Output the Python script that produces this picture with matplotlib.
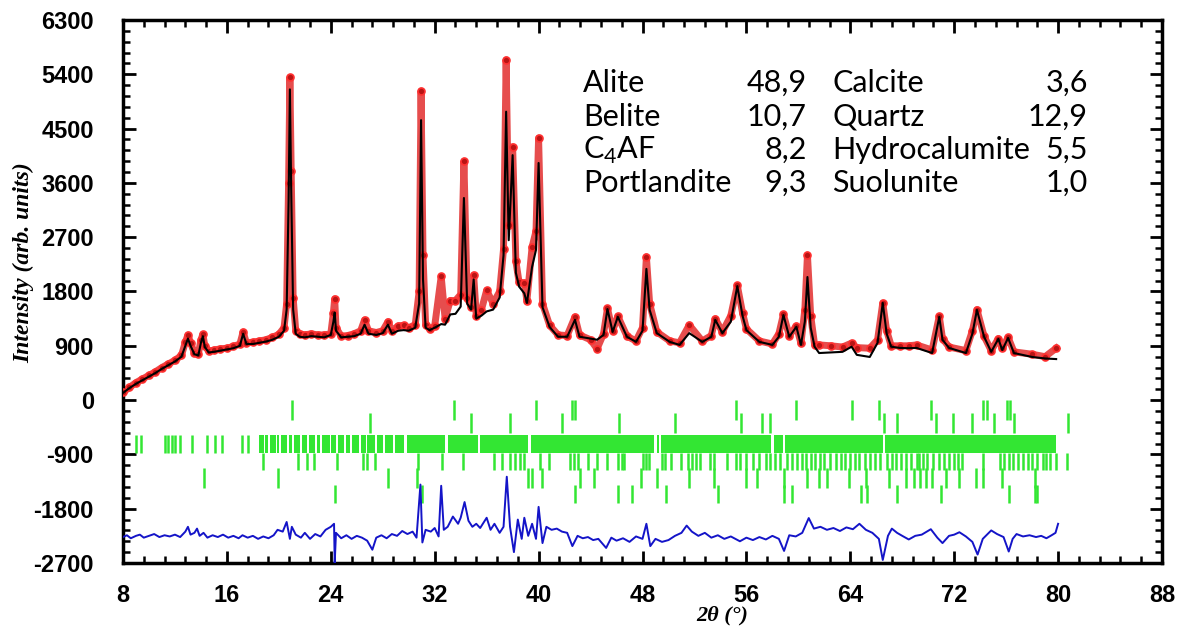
import matplotlib
matplotlib.use("Agg")
import matplotlib.pyplot as plt
from matplotlib.ticker import MultipleLocator

plt.rcParams['mathtext.fontset'] = 'custom'
plt.rcParams['mathtext.rm'] = 'Lato'
plt.rcParams['axes.unicode_minus'] = False

# observed / calculated profile (2theta, intensity)
tt = [8.0, 8.5, 9.0, 9.5, 10.0, 10.5, 11.0, 11.5, 12.0, 12.5, 12.8, 13.0, 13.2, 13.5, 13.8,
      14.0, 14.15, 14.3, 14.6, 15.0, 15.5, 16.0, 16.5, 17.0, 17.25, 17.5, 18.0, 18.5, 19.0,
      19.5, 20.0, 20.4, 20.6, 20.75, 20.85, 20.95, 21.1, 21.3, 21.6, 22.0, 22.5, 23.0, 23.5,
      24.0, 24.2, 24.3, 24.4, 24.8, 25.3, 25.8, 26.3, 26.6, 26.9, 27.5, 28.0, 28.4, 28.7,
      29.2, 29.6, 30.0, 30.5, 30.8, 30.95, 31.1, 31.3, 31.6, 32.0, 32.5, 32.8, 33.2, 33.6,
      34.0, 34.25, 34.5, 34.8, 35.0, 35.2, 35.6, 36.0, 36.5, 37.0, 37.3, 37.5, 37.7, 38.0,
      38.25, 38.5, 38.9, 39.1, 39.5, 39.8, 40.0, 40.3, 40.85, 41.5, 42.2, 42.8, 43.15, 44.0,
      44.5, 45.0, 45.3, 45.7, 46.1, 46.8, 47.5, 48.0, 48.3, 48.55, 49.1, 50.1, 50.85, 51.6,
      52.6, 53.3, 53.6, 54.15, 54.8, 55.3, 55.7, 56.0, 57.0, 58.0, 58.5, 58.85, 59.3, 59.85,
      60.2, 60.5, 60.7, 60.95, 61.25, 61.6, 62.5, 63.4, 64.1, 64.5, 65.5, 66.1, 66.5, 66.8,
      67.15, 67.8, 68.5, 69.1, 70.3, 70.85, 71.1, 71.6, 72.9, 73.4, 73.75, 74.3, 74.85, 75.4,
      75.7, 76.15, 76.6, 78.0, 79.0, 79.85]
y_calc = [120, 200, 270, 330, 390, 450, 520, 580, 640, 720, 900, 1020, 900, 760, 740,
          950, 1060, 880, 790, 800, 820, 840, 860, 900, 1100, 930, 930, 950, 970,
          1000, 1050, 1150, 1500, 3300, 5150, 3500, 1500, 1100, 1050, 1040, 1060, 1050, 1040,
          1080, 1300, 1450, 1150, 1040, 1050, 1060, 1100, 1250, 1100, 1080, 1110, 1250, 1100,
          1150, 1160, 1150, 1200, 1600, 4640, 2000, 1200, 1160, 1200, 1260, 1250, 1420, 1430,
          1550, 3350, 1600, 1500, 2000, 1350, 1400, 1470, 1500, 1700, 2400, 4780, 2650, 4060,
          2110, 1880, 1770, 1610, 2210, 2490, 3930, 1540, 1210, 1050, 1050, 1330, 1050, 1020,
          1000, 1080, 1510, 1130, 1380, 1050, 965, 1150, 2175, 1495, 1110, 965, 915, 1110,
          965, 1050, 1330, 1110, 1300, 1890, 1400, 1160, 965, 915, 1050, 1410, 1050, 1215,
          915, 1300, 2040, 1200, 885, 780, 790, 800, 885, 750, 715, 950, 1610, 1100,
          885, 865, 860, 865, 780, 1380, 1000, 865, 780, 1100, 1495, 1050, 800, 1015,
          830, 1030, 780, 715, 690, 680]
y_obs = [130, 210, 290, 350, 410, 470, 540, 600, 660, 740, 960, 1080, 950, 780, 760,
         1000, 1090, 900, 810, 830, 850, 860, 890, 930, 1130, 950, 960, 980, 1000,
         1040, 1090, 1200, 1600, 3600, 5350, 3800, 1700, 1150, 1100, 1080, 1100, 1080, 1080,
         1100, 1450, 1680, 1200, 1060, 1070, 1100, 1150, 1330, 1150, 1120, 1150, 1300, 1150,
         1230, 1240, 1200, 1250, 1800, 5125, 2400, 1250, 1180, 1230, 2050, 1350, 1650, 1650,
         1750, 3960, 1700, 1550, 2075, 1400, 1500, 1820, 1600, 1800, 2500, 5640, 2900, 4200,
         2300, 1950, 1940, 1650, 2540, 2800, 4345, 1600, 1240, 1080, 1070, 1380, 1080, 1000,
         850, 1100, 1520, 1150, 1390, 1060, 980, 1200, 2375, 1600, 1130, 980, 950, 1245,
         980, 1070, 1350, 1130, 1400, 1900, 1450, 1180, 980, 930, 1100, 1420, 1070, 1230,
         940, 1500, 2405, 1400, 920, 915, 900, 880, 945, 870, 860, 1000, 1610, 1150,
         900, 900, 900, 915, 830, 1390, 1020, 880, 820, 1150, 1500, 1060, 820, 1020,
         860, 1040, 800, 760, 720, 860]

# difference curve
tt_diff = [8.0, 8.3, 8.6, 9.0, 9.3, 9.6, 10.0, 10.4, 10.8, 11.2, 11.6, 12.0, 12.4, 12.8, 13.0,
           13.2, 13.5, 13.7, 13.9, 14.2, 14.5, 14.9, 15.3, 15.7, 16.1, 16.5, 16.9, 17.2, 17.6,
           18.0, 18.4, 18.8, 19.2, 19.6, 19.9, 20.3, 20.6, 20.85, 21.0, 21.3, 21.7, 22.0, 22.4,
           22.8, 23.2, 23.6, 24.0, 24.25, 24.3, 24.4, 24.8, 25.2, 25.6, 26.0, 26.4, 26.8, 27.2,
           27.5, 27.9, 28.3, 28.7, 29.1, 29.5, 29.9, 30.3, 30.6, 30.9, 31.05, 31.3, 31.7, 32.0,
           32.3, 32.5, 32.7, 33.0, 33.4, 33.8, 34.0, 34.3, 34.6, 34.9, 35.2, 35.5, 35.8, 36.0,
           36.3, 36.6, 37.0, 37.3, 37.55, 37.8, 38.1, 38.4, 38.7, 38.9, 39.2, 39.5, 39.8, 40.0,
           40.3, 40.6, 41.0, 41.4, 41.8, 42.2, 42.6, 43.0, 43.4, 43.8, 44.2, 44.6, 45.2, 45.6,
           46.0, 46.5, 47.0, 47.5, 48.0, 48.3, 48.6, 49.0, 49.5, 50.0, 50.5, 51.0, 51.4, 51.8,
           52.3, 52.8, 53.3, 53.8, 54.3, 54.8, 55.5, 56.0, 56.5, 57.0, 57.5, 58.0, 58.5, 58.9,
           59.3, 59.8, 60.3, 60.8, 61.2, 61.7, 62.2, 62.7, 63.2, 63.7, 64.2, 64.7, 65.2, 65.7,
           66.2, 66.5, 66.9, 67.2, 67.6, 68.0, 68.5, 69.0, 69.5, 70.2, 70.7, 71.1, 71.6, 72.0,
           72.4, 72.9, 73.4, 73.8, 74.2, 74.85, 75.3, 75.8, 76.2, 76.5, 76.8, 77.3, 77.8, 78.3,
           78.7, 79.1, 79.5, 79.8, 80.0]
y_diff = [-2270, -2240, -2290, -2250, -2230, -2280, -2250, -2220, -2270, -2240, -2260, -2230, -2270, -2180, -2100,
          -2230, -2200, -2130, -2250, -2200, -2280, -2240, -2270, -2230, -2280, -2250, -2290, -2240, -2280,
          -2250, -2300, -2260, -2290, -2240, -2150, -2180, -2020, -2300, -2100, -2230, -2280, -2200, -2300,
          -2220, -2260, -2150, -2100, -2050, -2700, -2200, -2290, -2240, -2300, -2250, -2280, -2330, -2480,
          -2280, -2240, -2290, -2220, -2250, -2170, -2220, -2180, -2280, -1400, -2360, -2150, -2180, -2120,
          -2260, -1420, -2150, -2100, -1930, -2050, -1950, -1690, -2000, -2100, -2050, -2120, -2020, -1950,
          -2150, -2050, -2200, -2100, -1270, -2100, -2520, -1980, -2300, -1950, -2250, -2050, -2300, -1770,
          -2370, -2100, -2150, -2130, -2180, -2200, -2420, -2250, -2290, -2270, -2320, -2300, -2450, -2280,
          -2330, -2290, -2350, -2260, -2300, -2050, -2420, -2300, -2350, -2320, -2250, -2200, -2080, -2180,
          -2250, -2200, -2280, -2240, -2300, -2260, -2340, -2280, -2320, -2270, -2310, -2250, -2300, -2500,
          -2240, -2260, -2200, -1955, -2130, -2100, -2150, -2120, -2170, -2110, -2140, -2050, -2150, -2200,
          -2300, -2650, -2250, -2130, -2200, -2250, -2310, -2250, -2230, -2140, -2280, -2370, -2250, -2230,
          -2190, -2260, -2350, -2560, -2300, -2160, -2220, -2270, -2510, -2300, -2220, -2260, -2240, -2270,
          -2250, -2290, -2240, -2200, -2050]

# Bragg reflection rows (one row per phase)
row1 = [21.0, 33.5, 39.8, 42.6, 42.8, 55.2, 59.8, 64.1, 66.2, 70.2, 74.2, 74.5, 76.1, 76.3]
row2 = [27.0, 34.8, 37.8, 41.8, 46.2, 50.5, 55.6, 57.2, 57.8, 66.6, 67.6, 70.6, 71.9, 73.4,
        75.1, 76.6, 80.8]
row3_ticks = [9.0, 9.4, 11.2, 11.5, 11.8, 12.0, 12.4, 13.3, 14.5, 15.1, 15.6, 17.2, 17.6]
row3_bands = [(18.5, 0.35), (18.95, 0.25), (19.3, 0.45), (19.85, 0.2), (20.15, 0.45),
              (20.75, 0.3), (21.15, 0.5), (21.8, 0.35), (22.3, 0.45), (22.9, 0.3),
              (23.35, 0.55), (24.05, 0.35), (24.55, 0.45), (25.15, 0.35), (25.65, 0.5),
              (26.3, 0.4), (26.8, 0.6), (27.55, 0.5), (28.15, 0.65), (28.95, 0.7),
              (29.85, 2.95), (33.0, 2.3), (35.5, 3.7), (39.4, 9.5), (49.1, 0.2),
              (49.4, 8.5), (58.1, 0.7), (59.0, 7.55), (66.65, 13.15)]
row4 = [18.8, 21.5, 22.2, 22.7, 24.5, 26.5, 26.8, 27.4, 30.7, 32.6, 34.2, 36.6, 37.2, 37.8,
        38.2, 38.6, 38.9, 40.1, 40.8, 42.4, 42.7, 43.0, 43.8, 44.5, 45.3, 46.1, 46.4, 46.6,
        48.0, 48.3, 48.5, 49.5, 49.7, 50.2, 51.0, 51.5, 51.8, 52.1, 52.4, 53.2, 53.5, 54.5,
        55.2, 55.5, 56.0, 56.5, 57.0, 57.5, 57.8, 58.2, 58.6, 59.1, 59.5, 59.9, 60.3, 60.6,
        61.0, 61.3, 61.7, 62.0, 62.4, 62.9, 63.3, 63.6, 64.0, 64.4, 64.7, 65.1, 65.5, 65.9,
        66.3, 66.8, 67.2, 67.5, 67.9, 68.3, 68.7, 69.1, 69.3, 69.6, 69.9, 70.4, 70.8, 71.2,
        71.6, 72.0, 72.3, 72.6, 74.2, 75.5, 75.8, 76.2, 76.5, 76.9, 77.3, 77.7, 78.0, 78.4,
        78.8, 79.1, 79.4, 79.8, 80.7]
row5 = [14.2, 19.9, 28.4, 30.6, 39.2, 39.5, 40.3, 43.2, 44.3, 47.9, 49.1, 51.6, 53.5, 56.0,
        56.8, 58.9, 60.7, 61.6, 62.2, 63.9, 65.2, 67.0, 68.3, 68.9, 69.4, 69.8, 70.3, 71.4,
        72.4, 73.7, 74.2, 75.7, 78.2]
row6 = [24.3, 31.0, 42.8, 46.1, 47.2, 49.8, 53.8, 58.9, 59.5, 64.8, 65.3, 67.6, 71.0, 76.2,
        78.2, 78.4]

phases_left = ["Alite", "Belite", "C$_{\\rm 4}$AF", "Portlandite"]
values_left = ["48,9", "10,7", "8,2", "9,3"]
phases_right = ["Calcite", "Quartz", "Hydrocalumite", "Suolunite"]
values_right = ["3,6", "12,9", "5,5", "1,0"]

green = '#33e633'

fig = plt.figure(figsize=(11.82, 6.31), dpi=100)
ax = fig.add_axes([123 / 1182, 1 - 563 / 631, 1039 / 1182, 543 / 631])

ax.plot(tt, y_obs, color='#e02020', lw=5, alpha=0.8, zorder=2)
ax.plot(tt, y_obs, 'o', ms=5, mfc='#b81414', mec='#ff3030', mew=1.2, zorder=3)
ax.plot(tt, y_calc, color='black', lw=1.5, zorder=4)

rows = [(row1, -330, 0), (row2, -545, -210), (row4, -1155, -875),
        (row5, -1455, -1120), (row6, -1700, -1405)]
for pos, lo, hi in rows:
    ax.vlines(pos, lo, hi, color=green, lw=1.8, zorder=2)
ax.vlines(row3_ticks, -875, -580, color=green, lw=1.8, zorder=2)
ax.broken_barh(row3_bands, (-875, 295), facecolors=green, zorder=2)

ax.plot(tt_diff, y_diff, color='#1414c8', lw=1.4, zorder=3)

ax.set_xlim(8, 88)
ax.set_ylim(-2700, 6300)
ax.xaxis.set_major_locator(MultipleLocator(8))
ax.xaxis.set_minor_locator(MultipleLocator(1.6))
ax.yaxis.set_major_locator(MultipleLocator(900))
ax.yaxis.set_minor_locator(MultipleLocator(180))
ax.tick_params(which='both', direction='in', top=True, right=True, width=2)
ax.tick_params(which='major', length=9)
ax.tick_params(which='minor', length=5, width=1.8)
ax.tick_params(axis='y', which='major', pad=21)
ax.tick_params(axis='x', which='major', pad=15)
for sp in ax.spines.values():
    sp.set_linewidth(2.5)
for lab in ax.get_xticklabels() + ax.get_yticklabels():
    lab.set_fontfamily('Liberation Sans')
    lab.set_fontweight('bold')
    lab.set_fontsize(17)

ax.set_xlabel('2θ (°)', family='Liberation Serif', style='italic', weight='bold', fontsize=16)
ax.xaxis.set_label_coords(0.577, -0.078)
ax.set_ylabel('Intensity (arb. units)', family='Liberation Serif', style='italic',
              weight='bold', fontsize=17)
ax.yaxis.set_label_coords(-0.085, 0.554)

row_y = [83, 117, 150, 183]
for i in range(4):
    y = 1 - row_y[i] / 631
    fig.text(583 / 1182, y, phases_left[i], family='Lato', fontsize=22, va='center', ha='left')
    fig.text(807 / 1182, y, values_left[i], family='Lato', fontsize=22, va='center', ha='right')
    fig.text(832 / 1182, y, phases_right[i], family='Lato', fontsize=22, va='center', ha='left')
    fig.text(1088 / 1182, y, values_right[i], family='Lato', fontsize=22, va='center', ha='right')

fig.savefig('out.png', dpi=100)
